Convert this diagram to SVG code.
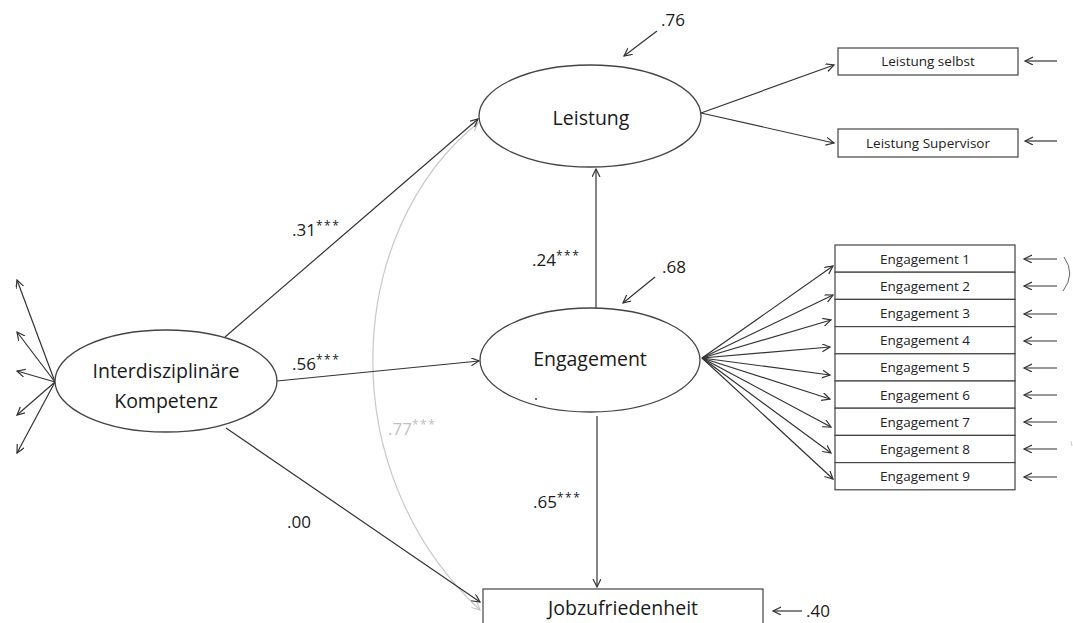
<svg xmlns="http://www.w3.org/2000/svg" width="1073" height="623" viewBox="0 0 1073 623">
<defs>
<marker id="ah" markerWidth="10" markerHeight="10" refX="8" refY="4" orient="auto" markerUnits="userSpaceOnUse">
<path d="M0,0 L8,4 L0,8" fill="none" stroke="#333" stroke-width="1.2"/>
</marker>
<marker id="ahg" markerWidth="10" markerHeight="10" refX="8" refY="4" orient="auto-start-reverse" markerUnits="userSpaceOnUse">
<path d="M0,0 L8,4 L0,8" fill="none" stroke="#c8c8c8" stroke-width="1.2"/>
</marker>
<style>
.ell{fill:#fff;stroke:#444;stroke-width:1.3}
.box{fill:#fff;stroke:#444;stroke-width:1.2}
.big{font-family:"Open Sans","DejaVu Sans",sans-serif;font-size:19.5px;fill:#1a1a1a;text-anchor:middle}
.sm{font-family:"Open Sans","DejaVu Sans",sans-serif;font-size:13.5px;fill:#222;text-anchor:middle}
.num{font-family:"Open Sans","DejaVu Sans",sans-serif;font-size:17px;fill:#1a1a1a}
.st{font-size:12px;letter-spacing:1.5px}
.ln{stroke:#333;stroke-width:1.2;fill:none}
</style>
</defs>
<rect width="1073" height="623" fill="#fff"/>
<g id="connectors">
<path class="ln" d="M478,123 C345,230 330,470 480,610" stroke="#c8c8c8" marker-start="url(#ahg)" marker-end="url(#ahg)" style="stroke:#c8c8c8"/>
<line class="ln" x1="55" y1="382" x2="17" y2="280" marker-end="url(#ah)"/>
<line class="ln" x1="55" y1="382" x2="17" y2="332" marker-end="url(#ah)"/>
<line class="ln" x1="55" y1="382" x2="17" y2="371" marker-end="url(#ah)"/>
<line class="ln" x1="55" y1="382" x2="17" y2="415" marker-end="url(#ah)"/>
<line class="ln" x1="55" y1="382" x2="17" y2="453" marker-end="url(#ah)"/>
<line class="ln" x1="225" y1="337" x2="478" y2="119" marker-end="url(#ah)"/>
<line class="ln" x1="277" y1="381" x2="479" y2="361" marker-end="url(#ah)"/>
<line class="ln" x1="226" y1="428" x2="480" y2="602" marker-end="url(#ah)"/>
<line class="ln" x1="596" y1="308" x2="596" y2="169" marker-end="url(#ah)"/>
<line class="ln" x1="597" y1="416" x2="597" y2="587" marker-end="url(#ah)"/>
<line class="ln" x1="701" y1="113" x2="834" y2="65" marker-end="url(#ah)"/>
<line class="ln" x1="701" y1="113" x2="834" y2="143" marker-end="url(#ah)"/>
<line class="ln" x1="1057" y1="61" x2="1025" y2="61" marker-end="url(#ah)"/>
<line class="ln" x1="1057" y1="141" x2="1025" y2="141" marker-end="url(#ah)"/>
<line class="ln" x1="657" y1="31" x2="624" y2="56" marker-end="url(#ah)"/>
<line class="ln" x1="655" y1="277" x2="623" y2="303" marker-end="url(#ah)"/>
<line class="ln" x1="802" y1="611" x2="773" y2="611" marker-end="url(#ah)"/>
<line class="ln" x1="702" y1="358" x2="833" y2="266" marker-end="url(#ah)"/>
<line class="ln" x1="702" y1="358" x2="833" y2="295" marker-end="url(#ah)"/>
<line class="ln" x1="702" y1="358" x2="831" y2="320" marker-end="url(#ah)"/>
<line class="ln" x1="702" y1="358" x2="830" y2="347" marker-end="url(#ah)"/>
<line class="ln" x1="702" y1="358" x2="830" y2="375" marker-end="url(#ah)"/>
<line class="ln" x1="702" y1="358" x2="830" y2="399" marker-end="url(#ah)"/>
<line class="ln" x1="702" y1="358" x2="831" y2="427" marker-end="url(#ah)"/>
<line class="ln" x1="702" y1="358" x2="831" y2="453" marker-end="url(#ah)"/>
<line class="ln" x1="702" y1="358" x2="833" y2="479" marker-end="url(#ah)"/>
<line class="ln" x1="1057" y1="259" x2="1024" y2="259" marker-end="url(#ah)"/>
<line class="ln" x1="1057" y1="286" x2="1024" y2="286" marker-end="url(#ah)"/>
<line class="ln" x1="1057" y1="314" x2="1024" y2="314" marker-end="url(#ah)"/>
<line class="ln" x1="1057" y1="341" x2="1024" y2="341" marker-end="url(#ah)"/>
<line class="ln" x1="1057" y1="368" x2="1024" y2="368" marker-end="url(#ah)"/>
<line class="ln" x1="1057" y1="395" x2="1024" y2="395" marker-end="url(#ah)"/>
<line class="ln" x1="1057" y1="422" x2="1024" y2="422" marker-end="url(#ah)"/>
<line class="ln" x1="1057" y1="449" x2="1024" y2="449" marker-end="url(#ah)"/>
<line class="ln" x1="1057" y1="477" x2="1024" y2="477" marker-end="url(#ah)"/>
<path d="M1064,257 Q1076,274 1063,291" fill="none" stroke="#666" stroke-width="1"/>
<path d="M1071,441 L1072,446" fill="none" stroke="#ccc" stroke-width="1"/>
</g>
<g id="labels">
<text class="num" x="292" y="236">.31<tspan class="st" dy="-6">***</tspan></text>
<text class="num" x="292" y="370">.56<tspan class="st" dy="-6">***</tspan></text>
<text class="num" x="287" y="528">.00</text>
<text class="num" x="388" y="435" style="fill:#c0c0c0">.77<tspan class="st" dy="-6">***</tspan></text>
<text class="num" x="532" y="266">.24<tspan class="st" dy="-6">***</tspan></text>
<text class="num" x="533" y="508">.65<tspan class="st" dy="-6">***</tspan></text>
<text class="num" x="661" y="26">.76</text>
<text class="num" x="662" y="273">.68</text>
<text class="num" x="806" y="617">.40</text>
</g>
<g id="interdisziplinaere">
<ellipse class="ell" cx="166" cy="381" rx="111" ry="51"/>
<text class="big" x="166" y="378">Interdisziplinäre</text>
<text class="big" x="166" y="408">Kompetenz</text>
</g>
<g id="leistung">
<ellipse class="ell" cx="590" cy="116" rx="111" ry="51"/>
<text class="big" x="591" y="125">Leistung</text>
</g>
<g id="engagement">
<ellipse class="ell" cx="590" cy="360" rx="110" ry="52"/>
<text class="big" x="590" y="366">Engagement</text>
<circle cx="536" cy="399" r="0.9" fill="#222"/>
</g>
<g id="jobzufriedenheit">
<rect class="box" x="483" y="589" width="280" height="50"/>
<text class="big" x="623" y="615">Jobzufriedenheit</text>
</g>
<g id="leistung-selbst">
<rect class="box" x="838" y="48" width="180" height="27"/>
<text class="sm" x="928" y="66">Leistung selbst</text>
</g>
<g id="leistung-supervisor">
<rect class="box" x="838" y="129" width="180" height="28"/>
<text class="sm" x="928" y="148">Leistung Supervisor</text>
</g>
<g id="engagement-items">
<rect class="box" x="835" y="245" width="180" height="27.2"/>
<rect class="box" x="835" y="272.2" width="180" height="27.2"/>
<rect class="box" x="835" y="299.4" width="180" height="27.2"/>
<rect class="box" x="835" y="326.6" width="180" height="27.2"/>
<rect class="box" x="835" y="353.8" width="180" height="27.2"/>
<rect class="box" x="835" y="381" width="180" height="27.2"/>
<rect class="box" x="835" y="408.2" width="180" height="27.2"/>
<rect class="box" x="835" y="435.4" width="180" height="27.2"/>
<rect class="box" x="835" y="462.6" width="180" height="27.2"/>
<text class="sm" x="925" y="263.5">Engagement 1</text>
<text class="sm" x="925" y="290.7">Engagement 2</text>
<text class="sm" x="925" y="317.9">Engagement 3</text>
<text class="sm" x="925" y="345.1">Engagement 4</text>
<text class="sm" x="925" y="372.3">Engagement 5</text>
<text class="sm" x="925" y="399.5">Engagement 6</text>
<text class="sm" x="925" y="426.7">Engagement 7</text>
<text class="sm" x="925" y="453.9">Engagement 8</text>
<text class="sm" x="925" y="481.1">Engagement 9</text>
</g>
</svg>
